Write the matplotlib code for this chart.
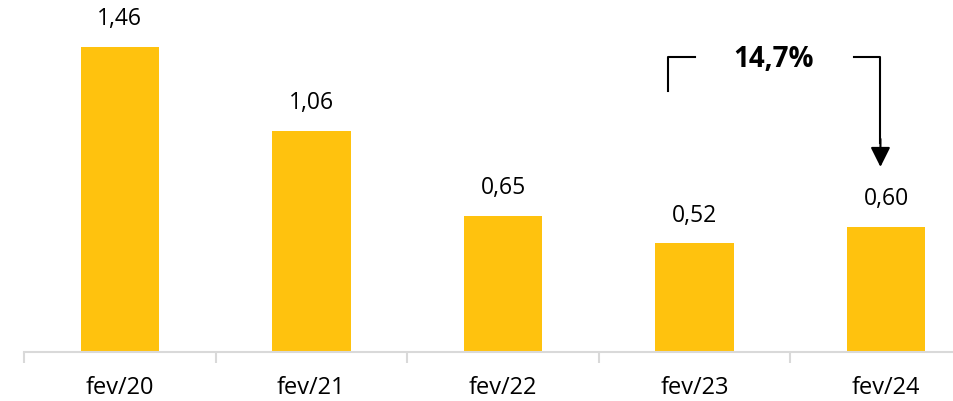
import matplotlib.pyplot as plt
import numpy as np

# dados do grafico
categorias = ['fev/20', 'fev/21', 'fev/22', 'fev/23', 'fev/24']
valores = [1.46, 1.06, 0.65, 0.52, 0.60]
rotulos = ['1,46', '1,06', '0,65', '0,52', '0,60']
variacao = '14,7%'

plt.rcParams['font.family'] = ['Open Sans', 'DejaVu Sans']

fig = plt.figure(figsize=(9.54, 4.01), dpi=100)
ax = fig.add_axes([24/954, 49/401, 958/954, 352/401])

x = np.arange(len(categorias))
ax.bar(x, valores, width=0.41, color='#FFC20E')

for xi, v, r in zip(x, valores, rotulos):
    ax.annotate(r, (xi, v), xytext=(0, 20), textcoords='offset points',
                ha='center', va='center', fontsize=16.5, color='#000000')

ax.set_xlim(-0.5, 4.5)
ax.set_ylim(0, 1.685)

# eixo x com ticks entre categorias
for s in ['top', 'right', 'left']:
    ax.spines[s].set_visible(False)
ax.spines['bottom'].set_color('#d9d9d9')
ax.spines['bottom'].set_linewidth(1.5)
ax.set_yticks([])
ax.set_xticks(np.arange(-0.5, 5.0, 1.0))
ax.set_xticklabels([])
ax.tick_params(axis='x', length=8, width=1.5, color='#d9d9d9')
for xi, c in zip(x, categorias):
    ax.text(xi, -0.17, c, ha='center', va='center', fontsize=17,
            transform=ax.transData, clip_on=False)

# colchete da variacao
ax.plot([2.86, 2.86, 3.0], [1.248, 1.412, 1.412], color='black', lw=1.5, clip_on=False)
ax.plot([3.83, 3.97, 3.97], [1.412, 1.412, 1.0], color='black', lw=1.5, clip_on=False)
ax.annotate('', xy=(3.97, 0.886), xytext=(3.97, 1.02),
            arrowprops=dict(arrowstyle='-|>,head_length=0.6,head_width=0.3',
                            color='black', lw=1.5,
                            mutation_scale=20, shrinkA=0, shrinkB=0))
ax.text(3.41, 1.40, variacao, ha='center', va='center', fontsize=20, fontweight='bold')

fig.savefig('out.png', dpi=100)
